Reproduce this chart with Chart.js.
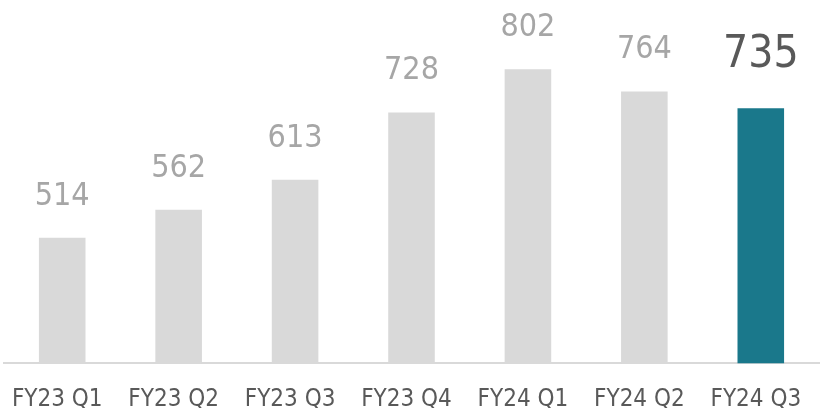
<!DOCTYPE html>
<html>
<head>
<meta charset="utf-8">
<script src="https://cdn.jsdelivr.net/npm/chart.js@4"></script>
<style>
  html, body { margin: 0; padding: 0; background: #fff; }
  canvas { display: block; }
</style>
</head>
<body>
<canvas id="grafico" width="821" height="408"></canvas>
<script>
const trimestres = ['FY23 Q1', 'FY23 Q2', 'FY23 Q3', 'FY23 Q4', 'FY24 Q1', 'FY24 Q2', 'FY24 Q3'];
const valores    = [514, 562, 613, 728, 802, 764, 735];
const destaque   = 6; // último trimestre em destaque

const FONTE = '"DejaVu Sans Condensed", "Open Sans", sans-serif';

// rótulos de valor acima das barras
const rotulos = {
  id: 'rotulos',
  afterDatasetsDraw(chart) {
    const { ctx } = chart;
    const meta = chart.getDatasetMeta(0);
    ctx.save();
    ctx.textAlign = 'center';
    ctx.textBaseline = 'alphabetic';
    meta.data.forEach((bar, i) => {
      const grande = i === destaque;
      ctx.font = (grande ? '44px ' : '32px ') + FONTE;
      ctx.fillStyle = grande ? '#595959' : '#a6a6a6';
      ctx.fillText(valores[i], bar.x, bar.y - (grande ? 41 : 33));
    });
    ctx.restore();
  }
};

new Chart(document.getElementById('grafico').getContext('2d'), {
  type: 'bar',
  data: {
    labels: trimestres,
    datasets: [{
      data: valores,
      backgroundColor: valores.map((v, i) => i === destaque ? '#1a788b' : '#d9d9d9'),
      borderWidth: 0,
      barPercentage: 0.4,
      categoryPercentage: 1
    }]
  },
  options: {
    responsive: false,
    animation: false,
    layout: { padding: { left: 4, right: 2, top: 0, bottom: -28 } },
    plugins: { legend: { display: false }, tooltip: { enabled: false } },
    scales: {
      x: {
        grid: { display: false, drawTicks: false },
        border: { display: true, color: '#d9d9d9', width: 2 },
        ticks: { color: '#595959', font: { family: FONTE, size: 24 }, padding: 22, labelOffset: -5, maxRotation: 0, autoSkip: false },
        afterFit(scale) { scale.paddingLeft = 0; scale.paddingRight = 0; }
      },
      y: {
        display: false,
        min: 300,
        max: 920
      }
    }
  },
  plugins: [rotulos]
});
</script>
</body>
</html>
